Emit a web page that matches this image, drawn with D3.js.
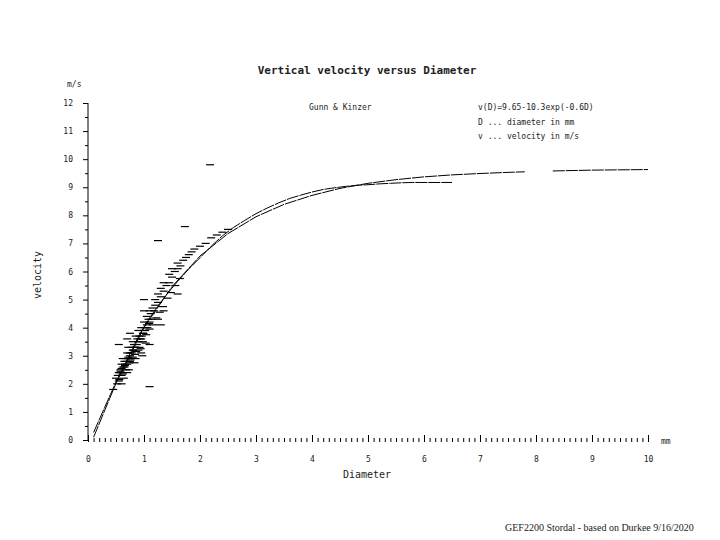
<!DOCTYPE html><html><head><meta charset="utf-8"><script src="https://cdn.jsdelivr.net/npm/d3@7"></script>
<style>body{margin:0;background:#fff}text{font-family:"DejaVu Sans Mono",monospace;fill:#222}</style></head><body><svg width="720" height="540"></svg>
<script>
const yTicks=[0,1,2,3,4,5,6,7,8,9,10,11,12];
const xTicks=[0,1,2,3,4,5,6,7,8,9,10];
const fitD=[0.1,0.5,1,1.5,2,2.5,3,3.5,4,4.5,5,5.5,6,6.5,7,7.5,7.8];
const fitV=[0.1,2.02,4.0,5.46,6.55,7.35,7.95,8.39,8.71,8.96,9.14,9.27,9.37,9.44,9.49,9.53,9.55];
const fit2D=[8.3,9,10];
const fit2V=[9.58,9.61,9.63];
const gkD=[0.1,0.2,0.3,0.4,0.5,0.6,0.7,0.8,0.9,1.0,1.2,1.4,1.6,1.8,2.0,2.2,2.4,2.6,2.8,3.0,3.2,3.4,3.6,3.8,4.0,4.2,4.4,4.6,4.8,5.0,5.2,5.4,5.6,5.8,6.5];
const gkV=[0.27,0.72,1.17,1.62,2.06,2.47,2.87,3.27,3.67,4.03,4.64,5.17,5.65,6.09,6.49,6.90,7.27,7.57,7.82,8.06,8.26,8.44,8.60,8.72,8.83,8.92,8.98,9.03,9.07,9.09,9.12,9.14,9.16,9.17,9.17];
const dropD=[0.5,0.52,0.55,0.55,0.58,0.6,0.6,0.62,0.62,0.65,0.65,0.68,0.7,0.7,0.72,0.72,0.75,0.75,0.78,0.8,0.8,0.82,0.85,0.85,0.88,0.9,0.9,0.92,0.95,0.95,0.98,1.0,1.0,1.02,1.05,1.05,1.08,1.1,1.1,1.12,1.15,1.18,1.2,1.2,1.25,1.25,1.3,1.3,1.35,1.35,1.4,1.45,1.45,1.5,1.5,1.55,1.6,1.6,1.65,1.7,1.75,1.8,1.85,1.9,2.0,2.1,2.2,2.3,2.4,2.5,0.45,0.6,0.7,0.85,0.95,1.1,1.25,1.35,0.55,0.75,1.0,2.18,1.1,1.73,1.25,1.0,1.3,0.7,0.9,1.6,
0.53,0.57,0.6,0.63,0.66,0.69,0.72,0.75,0.78,0.81,0.84,0.87,0.9,0.93,0.96,0.99,1.02,1.06,1.09,1.13,0.56,0.62,0.68,0.74,0.8,0.86,0.92,0.98,1.04,1.1,1.16,1.22,1.28,1.34,1.42,1.48,1.56,1.64,0.58,0.66,0.76,0.84,0.94,1.03,0.64,0.73,0.83,0.97];
const dropV=[2.2,2.0,2.4,2.1,2.5,2.3,2.7,2.4,2.9,2.6,2.8,2.9,2.7,3.1,2.9,3.3,3.1,2.8,3.3,3.2,3.5,3.4,3.3,3.7,3.6,3.5,3.9,3.7,3.6,4.0,3.8,3.9,4.2,4.0,4.1,4.4,4.3,4.2,4.6,4.5,4.7,4.6,4.8,5.0,4.9,5.2,5.1,5.4,5.3,5.6,5.5,5.6,5.9,5.8,6.1,6.0,6.1,6.3,6.2,6.4,6.5,6.6,6.7,6.8,6.9,7.0,7.2,7.3,7.4,7.5,1.8,2.0,2.4,2.9,3.1,3.4,4.3,4.6,3.4,3.8,4.6,9.8,1.9,7.6,7.1,5.0,4.1,3.6,3.2,5.2,
2.3,2.4,2.55,2.6,2.7,2.8,2.95,3.0,3.1,3.2,3.3,3.4,3.5,3.6,3.7,3.8,3.9,4.0,4.15,4.3,2.15,2.35,2.5,2.75,2.95,3.15,3.3,3.5,3.75,3.95,4.1,4.35,4.55,4.75,5.05,5.25,5.5,5.75,2.45,2.65,2.85,3.05,3.25,3.45,2.2,2.5,2.75,3.0];
const svg=d3.select("svg");
const x=d3.scaleLinear().domain([0,10]).range([88,648]);
const y=d3.scaleLinear().domain([0,12]).range([440,103]);
svg.append("line").attr("x1",88).attr("x2",88).attr("y1",103).attr("y2",440).attr("stroke","#000");
const yg=svg.append("g").attr("transform","translate(88,0)").call(d3.axisLeft(y).tickValues(yTicks).tickSize(5).tickFormat(d3.format("d")));
yg.select(".domain").remove();
const ym=svg.append("g").attr("transform","translate(88,0)").call(d3.axisLeft(y).tickValues(d3.range(0.5,12,1)).tickSize(3).tickFormat(""));
ym.select(".domain").remove();
yg.selectAll("text").attr("x",-15).style("font-size","8px");
const xm=svg.append("g").attr("transform","translate(0,442)").call(d3.axisTop(x).tickValues(d3.range(1,100).map(i=>i/10).filter(v=>Math.abs(v-Math.round(v))>1e-6)).tickSize(4).tickFormat(""));
xm.select(".domain").remove();
const xg=svg.append("g").attr("transform","translate(0,442)").call(d3.axisTop(x).tickValues(xTicks).tickSize(7).tickFormat(d3.format("d")));
xg.select(".domain").remove();
xg.selectAll("text").attr("y",20).style("font-size","8px");
svg.selectAll(".tick line").attr("stroke","#000");
const line=d3.line().x(d=>x(d[0])).y(d=>y(d[1]));
[[fitD,fitV],[fit2D,fit2V],[gkD,gkV]].forEach(([a,b])=>svg.append("path").attr("d",line(a.map((d,i)=>[d,b[i]]))).attr("fill","none").attr("stroke","#000").attr("stroke-width",1).attr("stroke-dasharray","12,1"));
svg.selectAll(".dr").data(dropD.map((d,i)=>[d,dropV[i]])).join("line").attr("x1",d=>x(d[0])-4).attr("x2",d=>x(d[0])+4).attr("y1",d=>y(d[1])).attr("y2",d=>y(d[1])).attr("stroke","#000").attr("stroke-width",1.2);
svg.append("text").attr("x",367).attr("y",74).attr("text-anchor","middle").style("font-size","11px").style("font-weight","bold").text("Vertical velocity versus Diameter");
svg.append("text").attr("x",67).attr("y",87).style("font-size","8px").text("m/s");
svg.append("text").attr("x",661).attr("y",444).style("font-size","8px").text("mm");
svg.append("text").attr("x",367).attr("y",478).attr("text-anchor","middle").style("font-size","10px").text("Diameter");
svg.append("text").attr("transform","translate(41,275) rotate(-90)").attr("text-anchor","middle").style("font-size","10px").text("velocity");
svg.append("text").attr("x",309).attr("y",110).style("font-size","8px").text("Gunn & Kinzer");
["v(D)=9.65-10.3exp(-0.6D)","D ... diameter in mm","v ... velocity in m/s"].forEach((t,i)=>svg.append("text").attr("x",478).attr("y",110+i*14.5).style("font-size","8px").text(t));
svg.append("text").attr("x",505).attr("y",531).style("font-family","'Liberation Serif',serif").style("font-size","10px").text("GEF2200 Stordal - based on Durkee 9/16/2020");
</script></body></html>
